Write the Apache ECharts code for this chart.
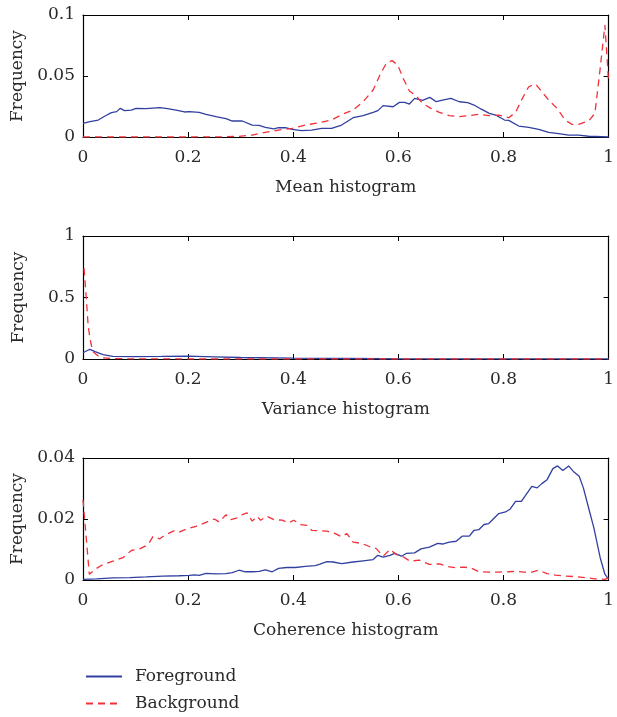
<!DOCTYPE html>
<html>
<head>
<meta charset="utf-8">
<script src="https://cdn.jsdelivr.net/npm/echarts@6/dist/echarts.min.js"></script>
<style>
  html, body { margin: 0; padding: 0; background: #fff; }
  #chart { width: 617px; height: 717px; }
</style>
</head>
<body>
<div id="chart"></div>
<script>
// Mean histogram
const meanFgX = [0, 0.013, 0.029, 0.042, 0.054, 0.064, 0.071, 0.079, 0.092, 0.101, 0.12, 0.146, 0.161, 0.177, 0.193, 0.202, 0.221, 0.234, 0.253, 0.272, 0.284, 0.303, 0.322, 0.335, 0.347, 0.363, 0.372, 0.385, 0.398, 0.416, 0.435, 0.454, 0.473, 0.492, 0.514, 0.533, 0.552, 0.561, 0.571, 0.59, 0.602, 0.612, 0.621, 0.631, 0.646, 0.66, 0.672, 0.684, 0.7, 0.716, 0.732, 0.744, 0.757, 0.773, 0.785, 0.802, 0.81, 0.829, 0.848, 0.867, 0.886, 0.905, 0.924, 0.943, 0.962, 0.987, 1];
const meanFgY = [0.0112, 0.0126, 0.0139, 0.0172, 0.020, 0.0208, 0.0235, 0.0216, 0.0221, 0.0235, 0.0232, 0.024, 0.0232, 0.0221, 0.0205, 0.0208, 0.0202, 0.0186, 0.0167, 0.015, 0.0131, 0.0131, 0.0098, 0.0096, 0.0079, 0.0066, 0.0076, 0.0076, 0.0063, 0.0052, 0.0057, 0.0071, 0.0071, 0.0098, 0.0158, 0.0175, 0.0202, 0.0216, 0.0257, 0.0248, 0.0284, 0.0284, 0.027, 0.0317, 0.030, 0.0325, 0.0289, 0.0303, 0.0317, 0.0289, 0.0281, 0.0262, 0.023, 0.0194, 0.018, 0.0139, 0.0136, 0.009, 0.0079, 0.0063, 0.0038, 0.0027, 0.0016, 0.0016, 0.0006, 0.0002, 0];
const meanBgX = [0, 0.1, 0.2, 0.26, 0.297, 0.322, 0.347, 0.372, 0.398, 0.423, 0.448, 0.473, 0.495, 0.514, 0.533, 0.552, 0.565, 0.577, 0.588, 0.599, 0.609, 0.621, 0.634, 0.646, 0.662, 0.678, 0.697, 0.716, 0.735, 0.754, 0.773, 0.791, 0.81, 0.823, 0.836, 0.848, 0.861, 0.873, 0.886, 0.902, 0.917, 0.93, 0.943, 0.962, 0.974, 0.984, 0.993, 1];
const meanBgY = [0, 0, 0, 0.0001, 0.0005, 0.0016, 0.0038, 0.0057, 0.0071, 0.0098, 0.0117, 0.0139, 0.0189, 0.0221, 0.0289, 0.0385, 0.0508, 0.0604, 0.0626, 0.059, 0.0481, 0.0377, 0.0336, 0.0276, 0.0235, 0.0202, 0.0175, 0.0167, 0.0175, 0.0186, 0.0175, 0.018, 0.0158, 0.0202, 0.0317, 0.0412, 0.0434, 0.0371, 0.0303, 0.0235, 0.0139, 0.0104, 0.0104, 0.0131, 0.0194, 0.0563, 0.0918, 0.0453];

// Variance histogram
const varFgX = [0, 0.013, 0.023, 0.038, 0.057, 0.1, 0.15, 0.2, 0.25, 0.3, 0.4, 0.5, 0.57, 0.6, 0.7, 0.8, 0.9, 1];
const varFgY = [0.051, 0.079, 0.06, 0.035, 0.022, 0.02, 0.021, 0.024, 0.018, 0.012, 0.007, 0.004, 0.002, 0.001, 0.0005, 0.0005, 0.0005, 0.0005];
const varBgX = [0.002, 0.006, 0.01, 0.015, 0.019, 0.029, 0.038, 0.06, 0.1, 0.2, 0.4, 0.6, 0.8, 1];
const varBgY = [0.737, 0.51, 0.26, 0.128, 0.06, 0.024, 0.01, 0.003, 0.001, 0, 0, 0, 0, 0];

// Coherence histogram
const cohFgX = [0, 0.026, 0.057, 0.089, 0.12, 0.152, 0.183, 0.202, 0.212, 0.221, 0.234, 0.253, 0.272, 0.284, 0.297, 0.309, 0.322, 0.335, 0.347, 0.36, 0.372, 0.388, 0.404, 0.423, 0.442, 0.451, 0.464, 0.476, 0.492, 0.514, 0.533, 0.552, 0.561, 0.571, 0.584, 0.593, 0.606, 0.615, 0.631, 0.643, 0.659, 0.675, 0.684, 0.697, 0.71, 0.722, 0.735, 0.744, 0.753, 0.763, 0.772, 0.791, 0.804, 0.813, 0.823, 0.834, 0.845, 0.854, 0.864, 0.873, 0.883, 0.894, 0.903, 0.913, 0.924, 0.933, 0.944, 0.952, 0.962, 0.972, 0.984, 0.993, 1];
const cohFgY = [0.0002, 0.0004, 0.0007, 0.0008, 0.001, 0.0013, 0.0014, 0.0015, 0.0017, 0.0015, 0.0022, 0.002, 0.0021, 0.0024, 0.0032, 0.0027, 0.0027, 0.0028, 0.0033, 0.0027, 0.0038, 0.0041, 0.0041, 0.0045, 0.0047, 0.0052, 0.006, 0.0059, 0.0054, 0.0059, 0.0063, 0.0067, 0.0081, 0.0075, 0.0081, 0.0087, 0.0078, 0.0087, 0.0089, 0.0102, 0.0108, 0.012, 0.0118, 0.0124, 0.0127, 0.0144, 0.0144, 0.0163, 0.0165, 0.0182, 0.0185, 0.0218, 0.0223, 0.0233, 0.0258, 0.0258, 0.0285, 0.0307, 0.0302, 0.0316, 0.0329, 0.0365, 0.0374, 0.0359, 0.0374, 0.0356, 0.034, 0.0302, 0.0236, 0.0171, 0.0073, 0.0019, 0.0002];
const cohBgX = [0, 0.012, 0.023, 0.038, 0.057, 0.076, 0.092, 0.108, 0.124, 0.133, 0.146, 0.158, 0.174, 0.183, 0.199, 0.215, 0.234, 0.25, 0.259, 0.272, 0.281, 0.294, 0.303, 0.312, 0.322, 0.331, 0.338, 0.35, 0.363, 0.379, 0.391, 0.401, 0.413, 0.426, 0.435, 0.448, 0.464, 0.48, 0.492, 0.502, 0.514, 0.53, 0.546, 0.558, 0.571, 0.584, 0.596, 0.609, 0.622, 0.64, 0.659, 0.678, 0.694, 0.71, 0.722, 0.738, 0.753, 0.772, 0.791, 0.81, 0.823, 0.839, 0.854, 0.867, 0.883, 0.899, 0.917, 0.936, 0.955, 0.974, 0.993, 1];
const cohBgY = [0.0263, 0.0019, 0.0035, 0.0051, 0.0062, 0.0073, 0.0097, 0.0102, 0.0116, 0.0142, 0.0135, 0.0149, 0.0162, 0.0157, 0.0169, 0.0176, 0.0189, 0.020, 0.019, 0.0214, 0.0198, 0.0204, 0.0214, 0.022, 0.0193, 0.0209, 0.0196, 0.0209, 0.0198, 0.0196, 0.0187, 0.0196, 0.0182, 0.0179, 0.0163, 0.0162, 0.016, 0.0152, 0.0142, 0.0152, 0.0124, 0.012, 0.0109, 0.0103, 0.0078, 0.010, 0.0084, 0.0076, 0.0062, 0.0065, 0.0051, 0.0053, 0.0044, 0.004, 0.0042, 0.004, 0.0027, 0.0026, 0.0026, 0.0027, 0.0029, 0.0026, 0.0026, 0.0032, 0.0021, 0.0016, 0.0013, 0.0011, 0.0008, 0.0004, 0.0002, 0.0008];

const xTickStep = 0.2;
const panelTitles = ['Mean histogram', 'Variance histogram', 'Coherence histogram'];
const yMax = [0.1, 1, 0.04];
const yStep = [0.05, 0.5, 0.02];

const FONT = 'DejaVu Serif';
const TEXT = '#2a2a2a';
const BLUE = '#3140a0';
const RED = '#f2303a';

const grids = [
  { left: 83, width: 529, top: 15, height: 122 },
  { left: 83, width: 529, top: 236, height: 123 },
  { left: 83, width: 529, top: 458, height: 122 }
];

const pairs = (xs, ys) => xs.map((x, i) => [x, ys[i]]);
const fmt = v => String(+v.toFixed(3));

const xAxes = [], yAxes = [], series = [];
grids.forEach((g, i) => {
  const lineCommon = { show: true, onZero: false, lineStyle: { color: '#000', width: 1.2 } };
  const tick = { inside: true, length: 5, lineStyle: { color: '#000' } };
  xAxes.push({
    type: 'value', gridIndex: i, min: 0, max: 1, interval: xTickStep, position: 'bottom',
    axisLine: lineCommon, splitLine: { show: false }, axisTick: tick,
    axisLabel: { fontFamily: FONT, fontSize: 17, color: TEXT, margin: 12, formatter: fmt },
    name: panelTitles[i], nameLocation: 'middle', nameGap: 42,
    nameTextStyle: { fontFamily: FONT, fontSize: 17, color: TEXT }
  });
  xAxes.push({
    type: 'value', gridIndex: i, min: 0, max: 1, interval: xTickStep, position: 'top',
    axisLine: lineCommon, splitLine: { show: false }, axisTick: tick,
    axisLabel: { show: false }
  });
  yAxes.push({
    type: 'value', gridIndex: i, min: 0, max: yMax[i], interval: yStep[i], position: 'left',
    axisLine: lineCommon, splitLine: { show: false }, axisTick: tick,
    axisLabel: { fontFamily: FONT, fontSize: 17, color: TEXT, margin: 8, formatter: fmt },
    name: 'Frequency', nameLocation: 'middle', nameRotate: 90, nameGap: 56,
    nameTextStyle: { fontFamily: FONT, fontSize: 17, color: TEXT }
  });
  yAxes.push({
    type: 'value', gridIndex: i, min: 0, max: yMax[i], interval: yStep[i], position: 'right',
    axisLine: lineCommon, splitLine: { show: false }, axisTick: tick,
    axisLabel: { show: false }
  });
});

const panels = [
  [pairs(meanFgX, meanFgY), pairs(meanBgX, meanBgY)],
  [pairs(varFgX, varFgY), pairs(varBgX, varBgY)],
  [pairs(cohFgX, cohFgY), pairs(cohBgX, cohBgY)]
];
panels.forEach((p, i) => {
  series.push({
    name: 'Foreground', type: 'line', xAxisIndex: i * 2, yAxisIndex: i * 2,
    data: p[0], symbol: 'none', animation: false,
    lineStyle: { color: BLUE, width: 1.3 }, itemStyle: { color: BLUE }
  });
  series.push({
    name: 'Background', type: 'line', xAxisIndex: i * 2, yAxisIndex: i * 2,
    data: p[1], symbol: 'none', animation: false,
    lineStyle: { color: RED, width: 1.3, type: [7, 5] }, itemStyle: { color: RED }
  });
});

const chart = echarts.init(document.getElementById('chart'), null, { renderer: 'canvas' });
chart.setOption({
  backgroundColor: '#fff',
  animation: false,
  grid: grids,
  xAxis: xAxes,
  yAxis: yAxes,
  legend: {
    data: ['Foreground', 'Background'],
    orient: 'vertical', left: 85, top: 668, height: 48, padding: 0,
    itemWidth: 36, itemHeight: 14, itemGap: 10,
    itemStyle: { opacity: 0 },
    textStyle: { fontFamily: FONT, fontSize: 17, color: TEXT, padding: [0, 0, 0, 8] }
  },
  series: series
});
</script>
</body>
</html>
